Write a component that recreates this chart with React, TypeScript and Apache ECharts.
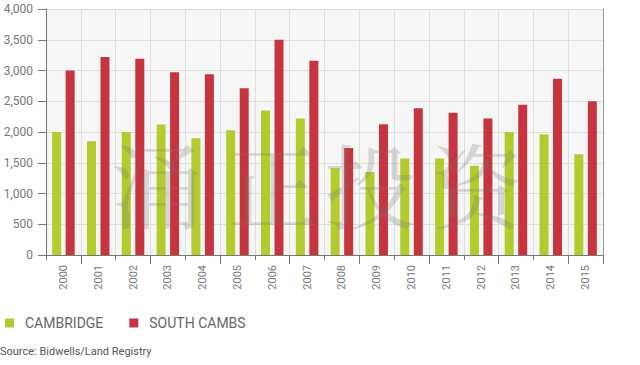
import React, { useEffect, useRef } from "react";
import * as echarts from "echarts";

const years = ["2000","2001","2002","2003","2004","2005","2006","2007","2008","2009","2010","2011","2012","2013","2014","2015"];
const cambridge = [2000,1850,2000,2120,1900,2030,2350,2220,1410,1350,1570,1570,1450,2000,1960,1640];
const southCambs = [3000,3220,3190,2970,2940,2710,3500,3160,1740,2125,2385,2315,2220,2445,2865,2500];
const yTicks = { min: 0, max: 4000, interval: 500 };
const watermark = ["涌", "正", "投", "资"];

const GREEN = "#b3cb2d";
const RED = "#c6353e";

export default function App() {
  const ref = useRef<HTMLDivElement>(null);
  useEffect(() => {
    if (!ref.current) return;
    const chart = echarts.init(ref.current, null, { renderer: "svg" });
    const wmX = [157, 273, 370, 477];
    chart.setOption({
      animation: false,
      textStyle: { fontFamily: "Roboto, sans-serif" },
      grid: {
        left: 46, right: 37, top: 9, bottom: 110,
        show: true, backgroundColor: "#f6f6f6", borderWidth: 0,
      },
      legend: {
        left: 0, top: 311, icon: "rect", itemWidth: 9, itemHeight: 9,
        itemGap: 26,
        textStyle: { fontSize: 14, color: "#666", padding: [0, 0, 0, 6] },
        data: ["CAMBRIDGE", "SOUTH CAMBS"],
      },
      xAxis: [
        {
          type: "category", data: years, boundaryGap: true,
          axisLine: { show: true, lineStyle: { color: "#777", width: 1 } },
          axisTick: { show: true, length: 5, lineStyle: { color: "#777" } },
          axisLabel: { rotate: 90, fontSize: 11, color: "#777", margin: 10 },
          splitLine: { show: true, lineStyle: { color: "#dedede" } },
        },
        {
          type: "category", data: years, boundaryGap: true, position: "bottom",
          axisLine: { show: false },
          axisTick: { show: true, length: 9, interval: (i: number) => i % 2 === 1, lineStyle: { color: "#777" } },
          axisLabel: { show: false },
          splitLine: { show: false },
        },
      ],
      yAxis: [
        {
          type: "value", min: yTicks.min, max: yTicks.max, interval: yTicks.interval,
          axisLine: { show: true, lineStyle: { color: "#777" } },
          axisTick: { show: true, length: 8, lineStyle: { color: "#777" } },
          axisLabel: {
            fontSize: 12, color: "#777", margin: 13,
            formatter: (v: number) => v.toLocaleString("en-US"),
          },
          splitLine: { show: true, lineStyle: { color: "#dedede" } },
        },
        {
          type: "value", position: "right", min: yTicks.min, max: yTicks.max, interval: yTicks.interval,
          axisLine: { show: true, lineStyle: { color: "#999" } },
          axisTick: { show: false }, axisLabel: { show: false }, splitLine: { show: false },
        },
      ],
      series: [
        { name: "CAMBRIDGE", type: "bar", data: cambridge, barWidth: 9, barGap: "50%", itemStyle: { color: GREEN } },
        { name: "SOUTH CAMBS", type: "bar", data: southCambs, barWidth: 9, barGap: "50%", itemStyle: { color: RED } },
      ],
      graphic: [
        ...watermark.map((ch, i) => ({
          type: "text", x: wmX[i], y: 182, z: 100,
          style: {
            text: ch, fontSize: 92, fontFamily: "'Noto Serif CJK SC', 'Noto Sans CJK SC', serif",
            fill: "rgba(120,120,120,0.25)", align: "center", verticalAlign: "middle",
          },
        })),
        {
          type: "text", left: 0, top: 346,
          style: { text: "Source: Bidwells/Land Registry", fontSize: 11, fill: "#555", fontFamily: "Roboto, sans-serif" },
        },
      ],
    });
    return () => chart.dispose();
  }, []);
  return <div ref={ref} style={{ position: "absolute", left: 0, top: 0, width: 640, height: 365 }} />;
}
